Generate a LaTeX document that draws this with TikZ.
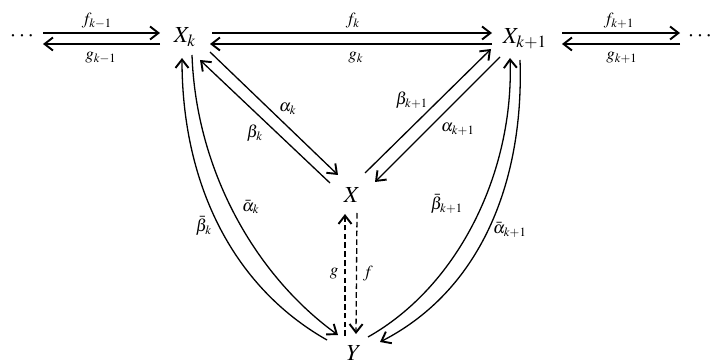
\documentclass[tikz,border=0pt]{standalone}
\usepackage{mathptmx}
\usetikzlibrary{arrows.meta,calc}
\tikzset{
  obj/.style={inner sep=0pt, anchor=base, font=\fontsize{11.5}{13}\selectfont},
  dots/.style={inner sep=0pt, anchor=center, font=\fontsize{11.5}{13}\selectfont},
  lbl/.style={inner sep=0pt, font=\fontsize{8.5}{10}\selectfont},
  arr/.style={line width=0.65pt, -{Straight Barb[length=4.2pt,width=6.5pt,line width=0.95pt]}},
  darr/.style={arr, dash pattern=on 2.8pt off 1.6pt},
}
\begin{document}
\begin{tikzpicture}[x=0.5pt,y=-0.5pt]
\useasboundingbox (0,0) rectangle (711,363);
% objects
\node[dots] (dl) at (22,36) {$\cdots$};
\node[obj] (Xk) at (185,43) {$X_k$};
\node[obj] (Xk1) at (525,44) {$X_{k+1}$};
\node[dots] (dr) at (700,36) {$\cdots$};
\node[obj] (X) at (352,203) {$X$};
\node[obj] (Y) at (354,360) {$Y$};
% horizontal arrows
\draw[arr] ($(dl)+(21,-3)$) -- ($(Xk.base)+(-25,-10)$);
\draw[arr] ($(Xk.base)+(-25,1)$) -- ($(dl)+(21,8)$);
\draw[arr] ($(Xk.base)+(27,-10)$) -- ($(Xk1.base)+(-33,-11)$);
\draw[arr] ($(Xk1.base)+(-33,0)$) -- ($(Xk.base)+(25,1)$);
\draw[arr] ($(Xk1.base)+(37,-11)$) -- ($(dr)+(-20,-3)$);
\draw[arr] ($(dr)+(-20,8)$) -- ($(Xk1.base)+(37,0)$);
\node[lbl] (lf0) at (97,21) {$f_{k-1}$};
\node[lbl] (lg0) at (101,58) {$g_{k-1}$};
\node[lbl] (lf1) at (353,21) {$f_{k}$};
\node[lbl] (lg1) at (356,58) {$g_{k}$};
\node[lbl] (lf2) at (619,21) {$f_{k+1}$};
\node[lbl] (lg2) at (622,58) {$g_{k+1}$};
% diagonals
\draw[arr] ($(Xk.base)+(25,9)$) -- ($(X.base)+(-14,-28)$);
\draw[arr] ($(X.base)+(-22,-20)$) -- ($(Xk.base)+(15,17)$);
\draw[arr] ($(X.base)+(13,-30)$) -- ($(Xk1.base)+(-34,5)$);
\draw[arr] ($(Xk1.base)+(-25,13)$) -- ($(X.base)+(23,-21)$);
\node[lbl] (la) at (288,109) {$\alpha_k$};
\node[lbl] (lb) at (255,133) {$\beta_k$};
\node[lbl] (lb1) at (412,100) {$\beta_{k+1}$};
\node[lbl] (la1) at (458,129) {$\alpha_{k+1}$};
% dashed
\draw[darr, line width=1pt] ($(Y.base)+(-9,-24)$) -- ($(X.base)+(-7,11)$);
\draw[darr] ($(X.base)+(5,10)$) -- ($(Y.base)+(2,-26)$);
\node[lbl] (lg) at (334,274) {$g$};
\node[lbl] (lf) at (368,274) {$f$};
% curves
\draw[arr] ($(Y.base)+(-27,-20)$) .. controls (230,285) and (182,180) .. ($(Xk.base)+(-3,15)$);
\draw[arr] ($(Xk.base)+(7,12)$) .. controls (196,170) and (255,275) .. ($(Y.base)+(-16,-25)$);
\draw[arr] ($(Y.base)+(14,-23)$) .. controls (460,285) and (514,170) .. ($(Xk1.base)+(-15,14)$);
\draw[arr] ($(Xk1.base)+(-5,16)$) .. controls (524,175) and (485,288) .. ($(Y.base)+(26,-18)$);
\node[lbl] (lab) at (251,207) {$\bar{\alpha}_k$};
\node[lbl] (lbb) at (204,226) {$\bar{\beta}_k$};
\node[lbl] (lbb1) at (447,204) {$\bar{\beta}_{k+1}$};
\node[lbl] (lab1) at (510,230) {$\bar{\alpha}_{k+1}$};
\end{tikzpicture}
\end{document}
